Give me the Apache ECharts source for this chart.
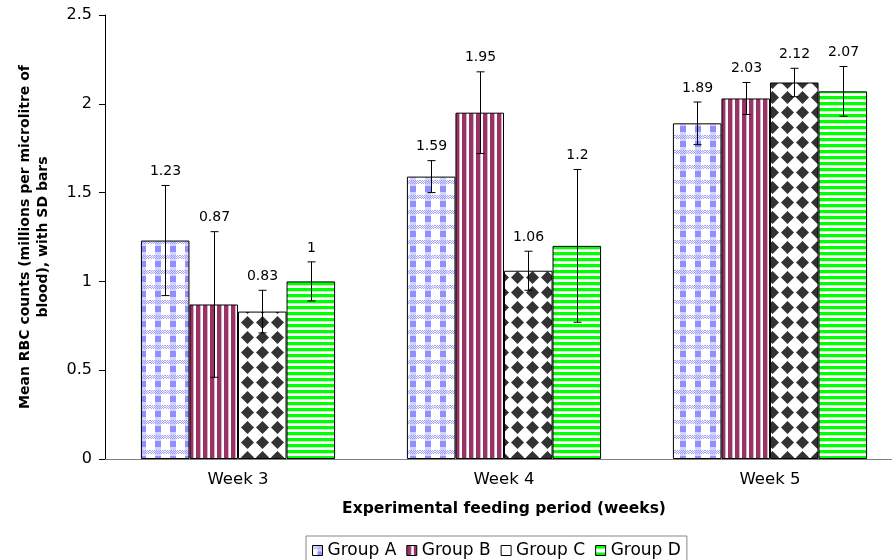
<!DOCTYPE html>
<html>
<head>
<meta charset="utf-8">
<script src="https://cdn.jsdelivr.net/npm/echarts@6/dist/echarts.min.js"></script>
<style>
  html, body { margin: 0; padding: 0; background: #fff; }
  #chart { width: 892px; height: 560px; }
</style>
</head>
<body>
<div id="chart"></div>
<script>
var weeks = ['Week 3', 'Week 4', 'Week 5'];
var groups = ['Group A', 'Group B', 'Group C', 'Group D'];
// means per group, one value per week
var groupA = [1.23, 1.59, 1.89];
var groupB = [0.87, 1.95, 2.03];
var groupC = [0.83, 1.06, 2.12];
var groupD = [1.0, 1.2, 2.07];
// standard deviations
var sdA = [0.31, 0.09, 0.12];
var sdB = [0.41, 0.23, 0.09];
var sdC = [0.12, 0.11, 0.08];
var sdD = [0.11, 0.43, 0.14];

var means = [groupA, groupB, groupC, groupD];
var sds = [sdA, sdB, sdC, sdD];

var FONT = '"DejaVu Sans", sans-serif';

function tile(w, h, draw) {
    var c = document.createElement('canvas');
    c.width = w;
    c.height = h;
    var ctx = c.getContext('2d');
    ctx.fillStyle = '#fff';
    ctx.fillRect(0, 0, w, h);
    draw(ctx);
    return {image: c, repeat: 'repeat'};
}

// plaid (blue checks)
var patA = tile(15, 15, function (ctx) {
    ctx.fillStyle = '#d4d4ff';
    ctx.fillRect(5, 0, 6, 15);
    for (var x = 0; x < 15; x++) {
        for (var y = 0; y < 4; y++) {
            if ((x + y) % 2 === 0) {
                ctx.fillStyle = '#a0a0ff';
                ctx.fillRect(x, y, 1, 1);
            }
        }
    }
    ctx.fillStyle = '#8f8fff';
    ctx.fillRect(5, 6, 6, 6);
});
// vertical maroon stripes
var patB = tile(7, 2, function (ctx) {
    ctx.fillStyle = '#993366';
    ctx.fillRect(0, 0, 4, 2);
    ctx.fillStyle = '#d8b0c4';
    ctx.fillRect(4, 0, 1, 2);
});
// black diamonds
var patC = tile(15, 15, function (ctx) {
    ctx.fillStyle = '#333';
    ctx.beginPath();
    ctx.moveTo(7.5, 1);
    ctx.lineTo(14, 7.5);
    ctx.lineTo(7.5, 14);
    ctx.lineTo(1, 7.5);
    ctx.closePath();
    ctx.fill();
});
// horizontal green stripes
var patD = tile(2, 6, function (ctx) {
    ctx.fillStyle = '#00ff00';
    ctx.fillRect(0, 0, 2, 3);
    ctx.fillStyle = '#b8ffb8';
    ctx.fillRect(0, 3, 2, 1);
});
var patterns = [patA, patB, patC, patD];
// small legend swatches, as in the original key
var legendFills = [patA, patB, '#fff', tile(10, 10, function (ctx) {
    ctx.fillStyle = '#00ff00';
    ctx.fillRect(0, 0, 10, 3);
    ctx.fillRect(0, 7, 10, 3);
})];

var barGapRatio = 0.27;

var series = groups.map(function (g, i) {
    return {
        name: g,
        type: 'bar',
        data: means[i],
        barGap: 0,
        barCategoryGap: (barGapRatio * 100) + '%',
        itemStyle: {
            color: patterns[i],
            borderColor: '#000',
            borderWidth: 1
        }
    };
});

var errData = [];
for (var i = 0; i < groups.length; i++) {
    for (var w = 0; w < weeks.length; w++) {
        errData.push([w, means[i][w], sds[i][w], i]);
    }
}

series.push({
    type: 'custom',
    name: 'sd',
    data: errData,
    z: 10,
    silent: true,
    renderItem: function (params, api) {
        var cat = api.value(0), val = api.value(1), sd = api.value(2), idx = api.value(3);
        var band = api.size([1, 0])[0];
        var bw = band * (1 - barGapRatio) / 4;
        var x = Math.round(api.coord([cat, val])[0] + (idx - 1.5) * bw) + 0.5;
        var hi = api.coord([cat, val + sd])[1];
        var lo = api.coord([cat, val - sd])[1];
        var cap = 4;
        var st = {stroke: '#000', lineWidth: 1};
        return {
            type: 'group',
            children: [
                {type: 'line', shape: {x1: x, y1: hi, x2: x, y2: lo}, style: st},
                {type: 'line', shape: {x1: x - cap, y1: hi, x2: x + cap, y2: hi}, style: st},
                {type: 'line', shape: {x1: x - cap, y1: lo, x2: x + cap, y2: lo}, style: st},
                {
                    type: 'text',
                    x: x,
                    y: hi - 14,
                    style: {
                        text: String(val),
                        fill: '#000',
                        font: '14px ' + FONT,
                        align: 'center',
                        verticalAlign: 'middle'
                    }
                }
            ]
        };
    }
});

var chart = echarts.init(document.getElementById('chart'));
chart.setOption({
    animation: false,
    textStyle: {fontFamily: FONT},
    grid: {left: 105, top: 15, width: 798, height: 444, outerBoundsMode: 'none', containLabel: false},
    legend: {
        data: groups.map(function (g, i) {
            return {name: g, itemStyle: {color: legendFills[i], borderColor: '#000', borderWidth: 1}};
        }),
        top: 536,
        left: 306,
        icon: 'rect',
        itemWidth: 10,
        itemHeight: 10,
        itemGap: 10,
        padding: [6, 6, 12, 6],
        borderColor: '#888',
        borderWidth: 1,
        textStyle: {fontSize: 17, color: '#000'}
    },
    xAxis: {
        type: 'category',
        data: weeks,
        name: 'Experimental feeding period (weeks)',
        nameLocation: 'middle',
        nameGap: 42,
        nameTextStyle: {fontSize: 15.5, fontWeight: 'bold', color: '#000'},
        axisLine: {lineStyle: {color: '#808080', width: 1}},
        axisTick: {lineStyle: {color: '#808080'}, length: 5},
        axisLabel: {fontSize: 16.5, color: '#000', margin: 12}
    },
    yAxis: {
        type: 'value',
        min: 0,
        max: 2.5,
        interval: 0.5,
        name: 'Mean RBC counts (millions per microlitre of\nblood), with SD bars',
        nameLocation: 'middle',
        nameRotate: 90,
        nameGap: 53,
        nameTextStyle: {fontSize: 14, fontWeight: 'bold', color: '#000', lineHeight: 18},
        axisLine: {show: true, lineStyle: {color: '#000', width: 1}},
        axisTick: {show: true, length: 6, lineStyle: {color: '#000'}},
        axisLabel: {fontSize: 16, color: '#000', margin: 13},
        splitLine: {show: false}
    },
    series: series
});
</script>
</body>
</html>
